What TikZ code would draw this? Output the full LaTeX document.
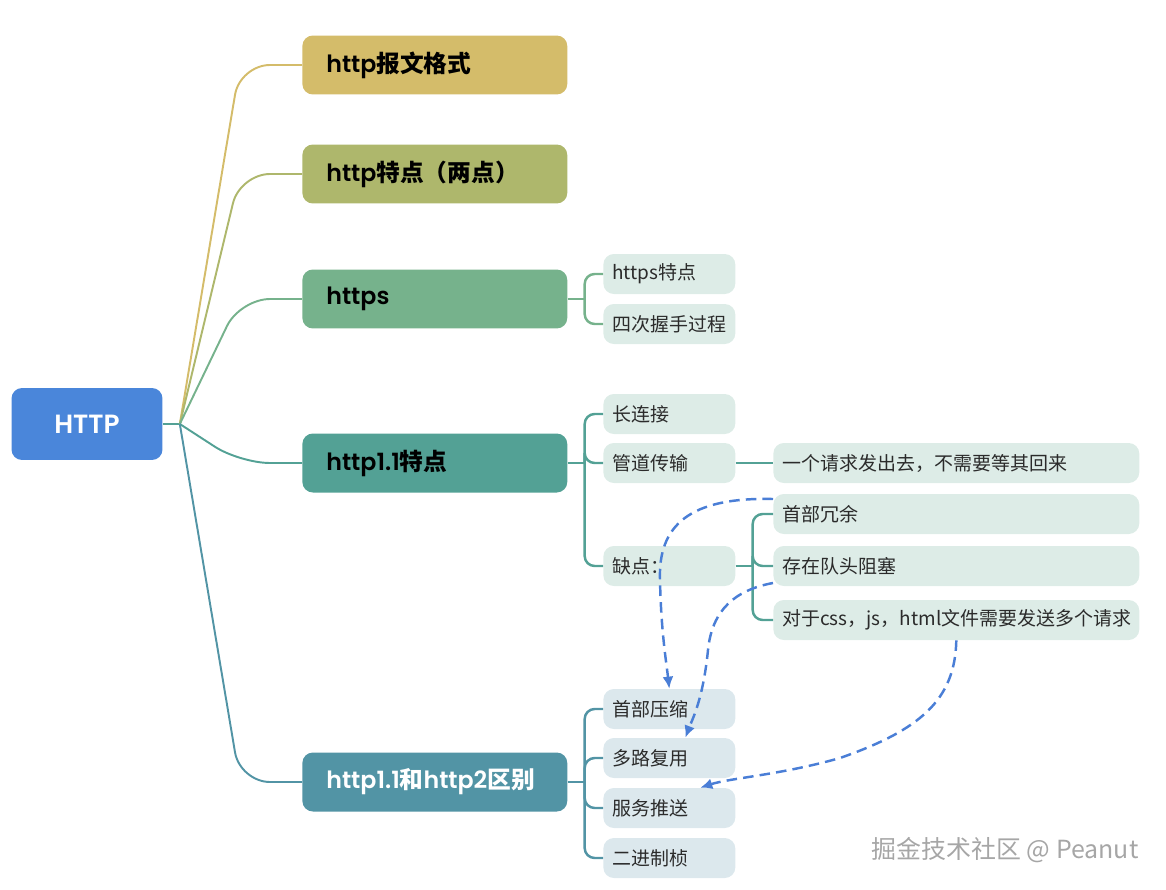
\documentclass[tikz,border=0pt]{standalone}
\usepackage{fontspec}
\setmainfont{Noto Sans CJK SC}
\newfontfamily\popfont{Poppins}[BoldFont={Poppins SemiBold}]
\usetikzlibrary{arrows.meta, positioning, calc}
\definecolor{hroot}{HTML}{4A86DA}
\definecolor{hgold}{HTML}{D4BC6A}
\definecolor{holive}{HTML}{AEB76C}
\definecolor{hgreen}{HTML}{76B28C}
\definecolor{hteal}{HTML}{53A195}
\definecolor{hsea}{HTML}{5294A5}
\definecolor{hmint}{HTML}{DDECE7}
\definecolor{hfog}{HTML}{DCE8ED}
\definecolor{hdash}{HTML}{4A7ED6}
\definecolor{htext}{HTML}{2B2B2B}
\tikzset{
  rootbox/.style={fill=hroot, text=white, rounded corners=6pt,
                  minimum width=3.02cm, minimum height=1.44cm,
                  font=\popfont\bfseries\fontsize{15}{17}\selectfont},
  topbox/.style={rounded corners=6pt, anchor=west, align=left,
                 minimum width=5.3cm, minimum height=1.18cm,
                 text width=4.34cm, inner xsep=0.48cm,
                 font=\bfseries\fontsize{13.5}{16}\selectfont},
  subbox/.style={fill=hmint, text=htext, rounded corners=6pt, anchor=west, align=left,
                 minimum height=0.8cm, text width=2.28cm, inner xsep=0.18cm,
                 font=\fontsize{10.8}{13}\selectfont},
  leafbox/.style={subbox, text width=6.96cm},
}
\begin{document}
\begin{tikzpicture}[
    x=0.02cm, y=-0.02cm,
    lnk/.style={line width=1.1pt, rounded corners=0.6cm},
    brk/.style={line width=1.4pt, rounded corners=0.2cm},
    dep/.style={-{Latex[length=2.4mm, width=2.2mm]}, hdash, line width=1.4pt,
                dash pattern=on 6pt off 3.5pt}
  ]
  \useasboundingbox (0,0) rectangle (1166,889);

  \node[rootbox] (root) at (87,424) {HTTP};

  \node[topbox, fill=hgold] (fmt) at (302,65) {{\popfont http}报文格式};
  \node[topbox, fill=holive] (feat) at (302,174) {{\popfont http}特点（两点）};
  \node[topbox, fill=hgreen] (hs) at (302,299) {{\popfont https}};
  \node[topbox, fill=hteal] (h11) at (302,463) {{\popfont http1.1}特点};
  \node[topbox, fill=hsea, text=white] (h2) at (302,782) {{\popfont http1.1}和{\popfont http2}区别};

  \coordinate (hub) at ([xshift=0.34cm]root.east);
  \draw[lnk, hteal] (root.east) -- (hub);
  \draw[lnk, hgold] (hub) -- ([xshift=-1.24cm]fmt.west) -- (fmt.west);
  \draw[lnk, holive] (hub) -- ([xshift=-1.24cm]feat.west) -- (feat.west);
  \draw[lnk, hgreen] (hub) -- ([xshift=-1.24cm]hs.west) -- (hs.west);
  \draw[lnk, hteal] (hub) -- ([xshift=-1.24cm]h11.west) -- (h11.west);
  \draw[lnk, hsea] (hub) -- ([xshift=-1.24cm]h2.west) -- (h2.west);

  % https
  \node[subbox] (hsfeat) at (603,274) {https特点};
  \node[subbox] (hshake) at (603,324) {四次握手过程};
  \coordinate (hsj) at ([xshift=0.34cm]hs.east);
  \draw[brk, hgreen] (hs.east) -- (hsj);
  \foreach \c in {hsfeat, hshake} \draw[brk, hgreen] (hsj) |- (\c.west);

  % http1.1
  \node[subbox] (keep) at (603,414) {长连接};
  \node[subbox] (pipe) at (603,463) {管道传输};
  \node[subbox] (flaw) at (603,566) {缺点：};
  \coordinate (h11j) at ([xshift=0.34cm]h11.east);
  \draw[brk, hteal] (h11.east) -- (h11j);
  \foreach \c in {keep, pipe, flaw} \draw[brk, hteal] (h11j) |- (\c.west);

  \node[leafbox] (nowait) at (773,463) {一个请求发出去，不需要等其回来};
  \draw[brk, hteal] (pipe.east) -- (nowait.west);

  \node[leafbox] (redund) at (773,514) {首部冗余};
  \node[leafbox] (hol) at (773,566) {存在队头阻塞};
  \node[leafbox] (multi) at (773,620) {对于css，js，html文件需要发送多个请求};
  \coordinate (flawj) at ([xshift=0.34cm]flaw.east);
  \draw[brk, hteal] (flaw.east) -- (flawj);
  \foreach \c in {redund, hol, multi} \draw[brk, hteal] (flawj) |- (\c.west);

  % http2
  \node[subbox, fill=hfog] (zip) at (603,709) {首部压缩};
  \node[subbox, fill=hfog] (mux) at (603,758) {多路复用};
  \node[subbox, fill=hfog] (push) at (603,808) {服务推送};
  \node[subbox, fill=hfog] (frame) at (603,858) {二进制桢};
  \coordinate (h2j) at ([xshift=0.34cm]h2.east);
  \draw[brk, hsea] (h2.east) -- (h2j);
  \foreach \c in {zip, mux, push, frame} \draw[brk, hsea] (h2j) |- (\c.west);

  % dashed links
  \draw[dep] ([yshift=0.3cm]redund.west) .. controls (690,497) and (658,525) .. (660,580)
             .. controls (661,630) and (666,660) .. (zip.north);
  \draw[dep] ([yshift=-0.34cm]hol.west) .. controls (735,590) and (712,610) .. (708,650)
             .. controls (703,700) and (692,720) .. ([xshift=0.32cm]mux.north);
  \draw[dep] (multi.south) .. controls (955,700) and (920,730) .. (840,758)
             .. controls (780,775) and (730,778) .. ([xshift=0.62cm]push.north);

  \node[text=black!35, font=\fontsize{14.2}{17}\selectfont] (mark) at (1005,850) {掘金技术社区 @ Peanut};
\end{tikzpicture}
\end{document}
